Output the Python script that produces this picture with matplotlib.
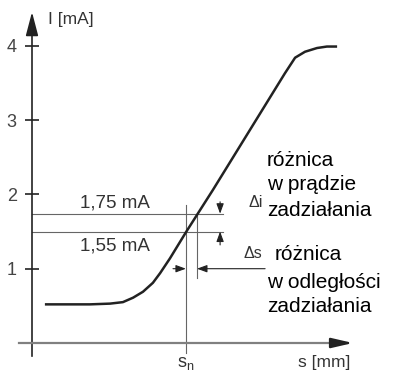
import matplotlib
matplotlib.use("Agg")
import matplotlib.pyplot as plt

plt.rcParams['font.family'] = ['Liberation Sans', 'DejaVu Sans']

# characteristic I(s)
s_curve = [0.43, 1.93, 2.60, 3.03, 3.37, 3.70, 4.03, 4.27, 4.60, 5.13, 6.03,
           8.43, 8.77, 9.10, 9.50, 9.83, 10.17]
i_curve = [0.52, 0.52, 0.53, 0.55, 0.61, 0.69, 0.81, 0.94, 1.14, 1.49, 2.06,
           3.63, 3.84, 3.92, 3.97, 3.99, 3.99]

y_ticks = [1, 2, 3, 4]
y_ticklabels = ['1', '2', '3', '4']

i_on = 1.74       # line "1,75 mA"
i_off = 1.50      # line "1,55 mA"
i_on_label = '1,75 mA'
i_off_label = '1,55 mA'
s_n = 5.13        # sn
s_2 = 5.50        # second switching distance

text_di = ['różnica', 'w prądzie', 'zadziałania']
text_ds = ['różnica', 'w odległości', 'zadziałania']

dark = '#222222'
grey = '#666666'

fig = plt.figure(figsize=(4, 3.72), dpi=100)
ax = fig.add_axes([0, 0, 1, 1])
ax.set_xlim(-32/30, (400-32)/30)
ax.set_ylim((343-372)/74.3, 343/74.3)

# axes
for sp in ['top', 'right']:
    ax.spines[sp].set_visible(False)
ax.spines['left'].set_position(('data', 0))
ax.spines['bottom'].set_position(('data', 0))
ax.spines['left'].set_bounds(-0.17, 4.3)
ax.spines['left'].set_color(dark)
ax.spines['left'].set_linewidth(1.2)
ax.spines['bottom'].set_bounds(-0.43, 10.3)
ax.spines['bottom'].set_color('#808080')
ax.spines['bottom'].set_linewidth(1.6)
ax.set_xticks([])
ax.set_yticks(y_ticks)
ax.set_yticklabels(y_ticklabels)
ax.tick_params(axis='y', direction='inout', length=10, width=1.2, color=dark,
               pad=6, labelsize=13, labelcolor='#444444')

ax.annotate('', xy=(0, 4.455), xytext=(0, 4.2),
            arrowprops=dict(arrowstyle='-|>,head_length=1.45,head_width=0.38',
                            mutation_scale=10, color=dark, lw=1.2,
                            shrinkA=0, shrinkB=0))
ax.annotate('', xy=(10.7, 0), xytext=(10.2, 0),
            arrowprops=dict(arrowstyle='-|>,head_length=1.3,head_width=0.3',
                            mutation_scale=10, color=dark, lw=1.6,
                            shrinkA=0, shrinkB=0))

# guide lines
ax.plot([0, 6.37], [i_on, i_on], color=grey, lw=0.8)
ax.plot([0, 6.37], [i_off, i_off], color=grey, lw=0.8)
ax.plot([s_n, s_n], [-0.13, 1.86], color=grey, lw=0.8)
ax.plot([s_2, s_2], [i_on, 0.87], color=grey, lw=0.8)

# characteristic
ax.plot(s_curve, i_curve, color=dark, lw=1.8, solid_capstyle='butt')

# small arrows
small = dict(arrowstyle='-|>,head_length=0.6,head_width=0.22', mutation_scale=10,
             color=dark, lw=0.8, shrinkA=0, shrinkB=0)
ax.annotate('', xy=(6.27, i_on), xytext=(6.27, 1.90), arrowprops=small)
ax.annotate('', xy=(6.27, i_off), xytext=(6.27, 1.32), arrowprops=small)
ax.annotate('', xy=(s_n, 1.0), xytext=(4.70, 1.0), arrowprops=small)
ax.annotate('', xy=(s_2, 1.0), xytext=(7.77, 1.0), arrowprops=small)

# texts
ax.text(2.77, 1.88, i_on_label, ha='center', va='center', fontsize=13.5, color='#333333')
ax.text(2.77, 1.31, i_off_label, ha='center', va='center', fontsize=13.5, color='#333333')
ax.text(0.53, 4.35, 'I [mA]', ha='left', va='center', fontsize=12.5, color='#333333')
ax.text(8.87, -0.26, 's [mm]', ha='left', va='center', fontsize=12.5, color='#333333')
ax.text(s_n, -0.28, 's$_\\mathregular{n}$', ha='center', va='center', fontsize=13, color='#333333')

ax.text(7.23, 1.89, 'Δi', ha='left', va='center', fontsize=11.5, color='#333333')
for k, t in enumerate(text_di):
    ax.text(7.83, (343-160-25*k)/74.3, t, ha='left', va='center', fontsize=15, color='black')

ax.text(7.05, 1.21, 'Δs', ha='left', va='center', fontsize=11.5, color='#333333')
ax.text(8.1, (343-255)/74.3, text_ds[0], ha='left', va='center', fontsize=15, color='black')
ax.text(7.83, (343-283)/74.3, text_ds[1], ha='left', va='center', fontsize=15, color='black')
ax.text(7.83, (343-307)/74.3, text_ds[2], ha='left', va='center', fontsize=15, color='black')

fig.savefig('out.png', dpi=100)
